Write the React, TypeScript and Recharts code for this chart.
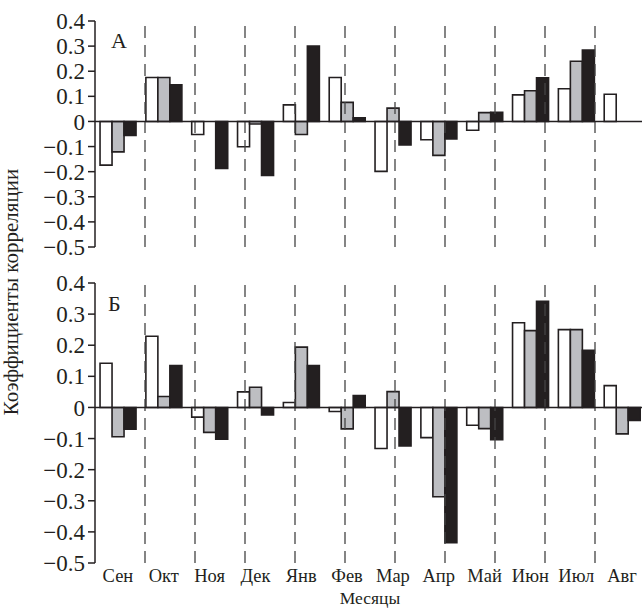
import { BarChart, Bar, XAxis, YAxis, ReferenceLine } from "recharts";

const months = ["Сен", "Окт", "Ноя", "Дек", "Янв", "Фев", "Мар", "Апр", "Май", "Июн", "Июл", "Авг"];

// panel А
const aWhite = [-0.174, 0.175, -0.052, -0.101, 0.066, 0.175, -0.199, -0.073, -0.035, 0.106, 0.13, 0.108];
const aGray = [-0.121, 0.175, 0, -0.01, -0.052, 0.076, 0.053, -0.135, 0.035, 0.122, 0.24, 0];
const aBlack = [-0.056, 0.146, -0.187, -0.215, 0.3, 0.015, -0.094, -0.07, 0.036, 0.174, 0.284, 0];

// panel Б
const bWhite = [0.142, 0.229, -0.031, 0.05, 0.016, -0.013, -0.132, -0.097, -0.057, 0.272, 0.25, 0.07];
const bGray = [-0.094, 0.035, -0.08, 0.065, 0.194, -0.069, 0.051, -0.287, -0.068, 0.247, 0.25, -0.085];
const bBlack = [-0.07, 0.135, -0.102, -0.024, 0.135, 0.038, -0.124, -0.435, -0.104, 0.341, 0.184, -0.042];

const yTicks = [-0.5, -0.4, -0.3, -0.2, -0.1, 0, 0.1, 0.2, 0.3, 0.4];
const signif = 0.22;

const INK = "#231f20";
const FONT = "'Liberation Serif', 'Times New Roman', serif";

const fmt = (v: number) => (v === 0 ? "0" : v < 0 ? "\u2212" + Math.abs(v) : String(v));

function rows(w: number[], g: number[], b: number[]) {
  return months.map((m, i) => ({ m, w: w[i], g: g[i], b: b[i] }));
}

function Panel({ data, height, top, showX }: { data: any[]; height: number; top: number; showX: boolean }) {
  const bounds = months.slice(1).map((_, i) => i + 1);
  return (
    <BarChart
      width={650}
      height={height}
      data={data}
      margin={{ top, right: 5, bottom: showX ? 0 : 13, left: 0 }}
      barCategoryGap="11%"
      barGap={0}
    >
      <XAxis
        dataKey="m"
        hide={!showX}
        height={46}
        axisLine={false}
        tickLine={false}
        tickSize={0}
        tickMargin={6}
        interval={0}
        tick={{ fill: INK, fontSize: 18.5, fontFamily: FONT }}
        label={showX ? { value: "Месяцы", position: "insideBottom", offset: 5, fill: INK, fontSize: 17.5, fontFamily: FONT } : undefined}
      />
      <XAxis xAxisId="g" type="number" domain={[0, 12]} hide />
      <YAxis
        width={95}
        domain={[-0.5, 0.4]}
        ticks={yTicks}
        interval={0}
        tickFormatter={fmt}
        tickSize={7}
        tickMargin={3}
        axisLine={{ stroke: INK, strokeWidth: 1.5 }}
        tickLine={{ stroke: INK, strokeWidth: 1.5 }}
        tick={{ fill: INK, fontSize: 23, fontFamily: FONT }}
      />
      {bounds.map((x) => (
        <ReferenceLine key={x} xAxisId="g" x={x} stroke="#444" strokeWidth={1.3} strokeDasharray="12 7" />
      ))}
      <ReferenceLine xAxisId="g" segment={[{ x: 0.5, y: signif }, { x: 11.5, y: signif }]} stroke={INK} strokeWidth={1.5} />
      <ReferenceLine xAxisId="g" segment={[{ x: 0.5, y: -signif }, { x: 11.5, y: -signif }]} stroke={INK} strokeWidth={1.5} />
      <ReferenceLine y={0} stroke={INK} strokeWidth={1.5} />
      <Bar dataKey="w" fill="#ffffff" stroke={INK} strokeWidth={1.6} isAnimationActive={false} />
      <Bar dataKey="g" fill="#bdbec2" stroke={INK} strokeWidth={1.6} isAnimationActive={false} />
      <Bar dataKey="b" fill={INK} stroke={INK} strokeWidth={1.6} isAnimationActive={false} />
    </BarChart>
  );
}

export default function App() {
  const dataA = rows(aWhite, aGray, aBlack);
  const dataB = rows(bWhite, bGray, bBlack);
  return (
    <div style={{ position: "fixed", left: 0, top: 0, width: 642, height: 609, overflow: "hidden", background: "#fff", fontFamily: FONT }}>
      <div style={{ position: "absolute", left: 0, top: 0 }}>
        <Panel data={dataA} height={260} top={21} showX={false} />
      </div>
      <div style={{ position: "absolute", left: 0, top: 260 }}>
        <Panel data={dataB} height={349} top={23} showX={true} />
      </div>
      <svg width={642} height={609} style={{ position: "absolute", left: 0, top: 0, pointerEvents: "none" }}>
        <text x={111} y={48} fontSize={22} fontFamily={FONT} fill={INK}>А</text>
        <text x={108} y={311} fontSize={22} fontFamily={FONT} fill={INK}>Б</text>
        <text transform="translate(18,292) rotate(-90)" textAnchor="middle" fontSize={21} fontFamily={FONT} fill={INK}>
          Коэффициенты корреляции
        </text>
      </svg>
    </div>
  );
}
